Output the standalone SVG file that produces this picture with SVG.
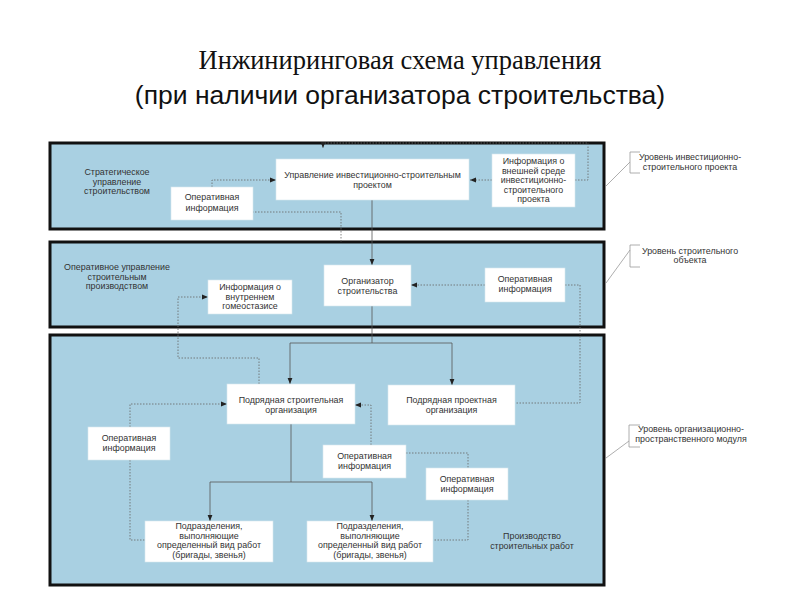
<svg xmlns="http://www.w3.org/2000/svg" width="800" height="600" viewBox="0 0 800 600">
<style>
.panel{fill:#a9d0e2;stroke:#111;stroke-width:3}
.box{fill:#fff;stroke:#d6e6ee;stroke-width:0.6}
.t{font-family:"Liberation Sans",Arial,sans-serif;font-size:8.9px;fill:#333;text-anchor:middle}
.solid{fill:none;stroke:#555;stroke-width:0.8}
.dash{fill:none;stroke:#666;stroke-width:0.8;stroke-dasharray:1.5 1.5}
.lvl{fill:none;stroke:#999;stroke-width:0.8}
</style>
<defs>
<marker id="ah" viewBox="0 0 10 10" refX="10" refY="5" markerWidth="6" markerHeight="6" markerUnits="userSpaceOnUse" orient="auto"><path d="M0,1 L10,5 L0,9z" fill="#222"/></marker>
</defs>
<rect width="800" height="600" fill="#fff"/>
<g id="title">
<text x="400" y="69" text-anchor="middle" font-family="Liberation Serif,Times New Roman,serif" font-size="26.5" fill="#111">Инжиниринговая схема управления</text>
<text x="400" y="104" text-anchor="middle" font-family="Liberation Sans,Arial,sans-serif" font-size="26.5" fill="#111">(при наличии организатора строительства)</text>
</g>
<g id="panels">
<rect class="panel" x="50" y="143" width="554" height="86"/>
<rect class="panel" x="50" y="242" width="554" height="85"/>
<rect class="panel" x="50" y="335" width="554" height="250"/>
</g>
<g id="panel-labels">
<text class="t" x="117" y="175">Стратегическое</text>
<text class="t" x="117" y="184.5">управление</text>
<text class="t" x="117" y="194">строительством</text>
<text class="t" x="117" y="270">Оперативное управление</text>
<text class="t" x="117" y="279.5">строительным</text>
<text class="t" x="117" y="289">производством</text>
<text class="t" x="532" y="539">Производство</text>
<text class="t" x="532" y="549">строительных работ</text>
</g>
<g id="connectors">
<path class="dash" d="M212,187 V180 H276" marker-end="url(#ah)"/>
<path class="dash" d="M252,212 H341 V243"/>
<path class="dash" d="M492,180 H470" marker-end="url(#ah)"/>
<path class="dash" d="M575,180 H588 V143 H323 V148" marker-end="url(#ah)"/>
<path class="solid" d="M372,200 V265" marker-end="url(#ah)"/>
<path class="dash" d="M485,285 H411" marker-end="url(#ah)"/>
<path class="dash" d="M565,285 H580 V403 H515"/>
<path class="dash" d="M259,384 V358 H178 V297 H208" marker-end="url(#ah)"/>
<path class="solid" d="M372,306 V343 M290,343 H452"/>
<path class="solid" d="M290,343 V384" marker-end="url(#ah)"/>
<path class="solid" d="M452,343 V385" marker-end="url(#ah)"/>
<path class="dash" d="M130,427 V404 H227" marker-end="url(#ah)"/>
<path class="dash" d="M130,460 V540 H145"/>
<path class="dash" d="M371,445 V405 H355" marker-end="url(#ah)"/>
<path class="dash" d="M406,453 H468 V468"/>
<path class="dash" d="M468,500 V540 H433"/>
<path class="solid" d="M291,424 V482 M210,482 H372"/>
<path class="solid" d="M210,482 V521" marker-end="url(#ah)"/>
<path class="solid" d="M372,482 V521" marker-end="url(#ah)"/>
</g>
<g id="op1">
<rect class="box" x="171" y="187" width="82" height="33"/>
<text class="t" x="212" y="200">Оперативная</text>
<text class="t" x="212" y="211">информация</text>
</g>
<g id="uisp">
<rect class="box" x="276" y="159" width="193" height="41"/>
<text class="t" x="372.5" y="178">Управление инвестиционно-строительным</text>
<text class="t" x="372.5" y="188">проектом</text>
</g>
<g id="vneshn">
<rect class="box" x="492" y="154" width="83" height="53"/>
<text class="t" x="533.5" y="164">Информация о</text>
<text class="t" x="533.5" y="173.5">внешней среде</text>
<text class="t" x="533.5" y="183">инвестиционно-</text>
<text class="t" x="533.5" y="192.5">строительного</text>
<text class="t" x="533.5" y="202">проекта</text>
</g>
<g id="gomeo">
<rect class="box" x="208" y="280" width="84" height="34"/>
<text class="t" x="250" y="290">Информация о</text>
<text class="t" x="250" y="299.5">внутреннем</text>
<text class="t" x="250" y="309">гомеостазисе</text>
</g>
<g id="organizer">
<rect class="box" x="324" y="265" width="87" height="41"/>
<text class="t" x="367.5" y="283.5">Организатор</text>
<text class="t" x="367.5" y="293.5">строительства</text>
</g>
<g id="op2">
<rect class="box" x="485" y="268" width="80" height="34"/>
<text class="t" x="525" y="282">Оперативная</text>
<text class="t" x="525" y="292">информация</text>
</g>
<g id="pso">
<rect class="box" x="227" y="384" width="128" height="40"/>
<text class="t" x="291" y="403">Подрядная строительная</text>
<text class="t" x="291" y="413">организация</text>
</g>
<g id="ppo">
<rect class="box" x="388" y="385" width="127" height="40"/>
<text class="t" x="451.5" y="403">Подрядная проектная</text>
<text class="t" x="451.5" y="413">организация</text>
</g>
<g id="op3l">
<rect class="box" x="88" y="427" width="82" height="33"/>
<text class="t" x="129" y="440.5">Оперативная</text>
<text class="t" x="129" y="450.5">информация</text>
</g>
<g id="op3m">
<rect class="box" x="323" y="445" width="83" height="33"/>
<text class="t" x="364.5" y="459">Оперативная</text>
<text class="t" x="364.5" y="469">информация</text>
</g>
<g id="op3r">
<rect class="box" x="426" y="468" width="82" height="32"/>
<text class="t" x="467" y="481.5">Оперативная</text>
<text class="t" x="467" y="491.5">информация</text>
</g>
<g id="podr1">
<rect class="box" x="145" y="521" width="128" height="41"/>
<text class="t" x="209" y="529">Подразделения,</text>
<text class="t" x="209" y="538.5">выполняющие</text>
<text class="t" x="209" y="548">определенный вид работ</text>
<text class="t" x="209" y="557.5">(бригады, звенья)</text>
</g>
<g id="podr2">
<rect class="box" x="307" y="521" width="126" height="41"/>
<text class="t" x="370" y="529">Подразделения,</text>
<text class="t" x="370" y="538.5">выполняющие</text>
<text class="t" x="370" y="548">определенный вид работ</text>
<text class="t" x="370" y="557.5">(бригады, звенья)</text>
</g>
<g id="level1">
<path class="lvl" d="M640,152 H630 V173 H640 M630,162 L606,186"/>
<text class="t" x="690" y="160">Уровень инвестиционно-</text>
<text class="t" x="690" y="170">строительного проекта</text>
</g>
<g id="level2">
<path class="lvl" d="M640,245 H630 V267 H640 M630,250 L606,283"/>
<text class="t" x="690" y="254">Уровень строительного</text>
<text class="t" x="690" y="263">объекта</text>
</g>
<g id="level3">
<path class="lvl" d="M640,425 H629 V447 H640 M629,441 L606,458"/>
<text class="t" x="691" y="432">Уровень организационно-</text>
<text class="t" x="691" y="442">пространственного модуля</text>
</g>
</svg>
